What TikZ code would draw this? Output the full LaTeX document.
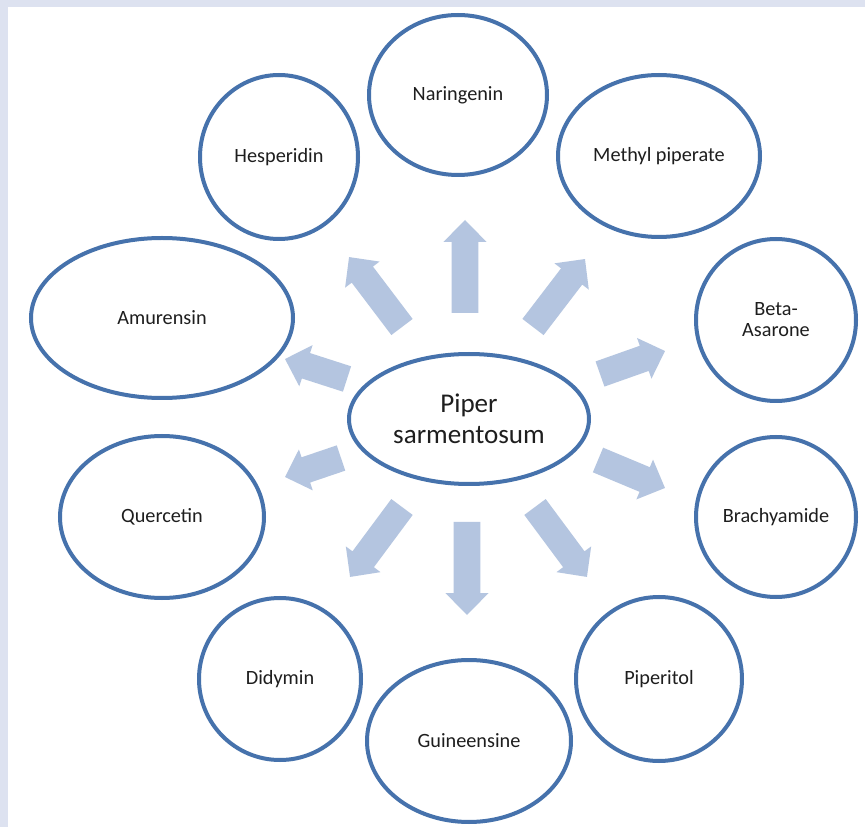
\documentclass[tikz,border=0pt]{standalone}
\usepackage{fontspec}
\setmainfont{Carlito}
\usetikzlibrary{calc,shapes.geometric}
\definecolor{edgeblue}{RGB}{70,114,172}
\definecolor{arrowfill}{RGB}{180,197,224}
\definecolor{strip}{RGB}{221,226,240}
\definecolor{txt}{RGB}{30,30,30}
\newcommand\blockarrow[2]{%
  \fill[arrowfill] let \p1=($(#2)-(#1)$), \n1={atan2(\y1,\x1)}, \n2={veclen(\x1,\y1)} in
    [shift={(#1)}, rotate=\n1] (0pt,-10pt) -- ({\n2-16.5pt},-10pt) -- ({\n2-16.5pt},-16.2pt)
    -- (\n2,0pt) -- ({\n2-16.5pt},16.2pt) -- ({\n2-16.5pt},10pt) -- (0pt,10pt) -- cycle;}
\begin{document}
\begin{tikzpicture}[x=0.75pt,y=-0.75pt,
  bub/.style 2 args={ellipse, draw=edgeblue, line width=3pt, fill=white, inner sep=0pt,
    minimum width={(#1-2)*1.5pt}, minimum height={(#2-2)*1.5pt}, text=txt,
    font=\fontsize{15.2}{15.8}\selectfont, align=center},
  hub/.style={font=\fontsize{20.3}{23.3}\selectfont}]
\useasboundingbox (0,0) rectangle (865,827);
\fill[strip] (0,0) rectangle (865,827);
\fill[white] (8,7) rectangle (865,827);

% arrow end points
\coordinate (tN)  at (465,313);   \coordinate (hN)  at (465,220);
\coordinate (tNW) at (402,327);   \coordinate (hNW) at (349,257);
\coordinate (tNE) at (533,327);   \coordinate (hNE) at (585,259);
\coordinate (tWU) at (347,379);   \coordinate (hWU) at (285,359);
\coordinate (tEU) at (600,374);   \coordinate (hEU) at (665,351);
\coordinate (tWD) at (341,458);   \coordinate (hWD) at (285,477);
\coordinate (tED) at (598,460);   \coordinate (hED) at (665,488);
\coordinate (tSW) at (402,507);   \coordinate (hSW) at (350,577);
\coordinate (tS)  at (467,522);   \coordinate (hS)  at (467,615);
\coordinate (tSE) at (535,507);   \coordinate (hSE) at (587,577);

\blockarrow{tN}{hN}
\blockarrow{tNW}{hNW}
\blockarrow{tNE}{hNE}
\blockarrow{tWU}{hWU}
\blockarrow{tEU}{hEU}
\blockarrow{tWD}{hWD}
\blockarrow{tED}{hED}
\blockarrow{tSW}{hSW}
\blockarrow{tS}{hS}
\blockarrow{tSE}{hSE}

\node[bub={122}{67}, hub] (piper) at (469,419) {Piper\\sarmentosum};
\node[bub={91}{82}]  (nar) at (458,95)  {Naringenin};
\node[bub={81}{84}]  (hes) at (279,157) {Hesperidin};
\node[bub={103}{83}] (met) at (659,156) {Methyl piperate};
\node[bub={82}{83}]  (bet) at (776,320) {Beta-\\Asarone};
\node[bub={133}{82}] (amu) at (162,318) {Amurensin};
\node[bub={104}{83}] (que) at (162,517) {Quercetin};
\node[bub={82}{82}]  (bra) at (776,517) {Brachyamide};
\node[bub={83}{83}]  (did) at (280,679) {Didymin};
\node[bub={104}{83}] (gui) at (469,741) {Guineensine};
\node[bub={85}{84}]  (pip) at (659,679) {Piperitol};
\end{tikzpicture}
\end{document}
